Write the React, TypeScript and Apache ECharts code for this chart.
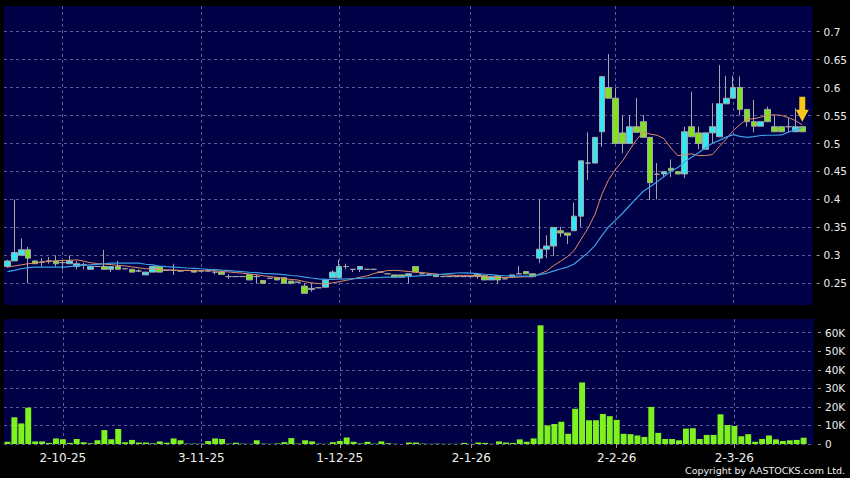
import React, { useEffect, useRef } from "react";
import * as echarts from "echarts";

// [open, close, low, high]
const ohlc: number[][] = [
  [0.28, 0.29, 0.278, 0.292],
  [0.29, 0.305, 0.29, 0.4],
  [0.3, 0.31, 0.3, 0.33],
  [0.31, 0.295, 0.25, 0.315],
  [0.29, 0.285, 0.285, 0.29],
  [0.288, 0.288, 0.28, 0.295],
  [0.29, 0.29, 0.285, 0.297],
  [0.29, 0.285, 0.28, 0.3],
  [0.287, 0.287, 0.275, 0.29],
  [0.285, 0.29, 0.285, 0.3],
  [0.28, 0.285, 0.275, 0.29],
  [0.283, 0.283, 0.275, 0.287],
  [0.275, 0.28, 0.275, 0.28],
  [0.28, 0.28, 0.28, 0.28],
  [0.28, 0.275, 0.275, 0.31],
  [0.275, 0.28, 0.27, 0.28],
  [0.28, 0.275, 0.275, 0.29],
  [0.276, 0.276, 0.276, 0.276],
  [0.275, 0.27, 0.27, 0.275],
  [0.272, 0.272, 0.27, 0.275],
  [0.265, 0.27, 0.265, 0.27],
  [0.27, 0.28, 0.27, 0.28],
  [0.28, 0.27, 0.27, 0.28],
  [0.273, 0.273, 0.273, 0.273],
  [0.273, 0.273, 0.265, 0.285],
  [0.272, 0.272, 0.27, 0.273],
  [0.273, 0.273, 0.273, 0.273],
  [0.273, 0.27, 0.27, 0.273],
  [0.272, 0.272, 0.272, 0.272],
  [0.272, 0.272, 0.272, 0.272],
  [0.27, 0.27, 0.266, 0.27],
  [0.27, 0.266, 0.266, 0.272],
  [0.262, 0.262, 0.258, 0.266],
  [0.262, 0.262, 0.262, 0.262],
  [0.262, 0.262, 0.262, 0.262],
  [0.266, 0.256, 0.256, 0.266],
  [0.262, 0.262, 0.25, 0.266],
  [0.255, 0.25, 0.25, 0.255],
  [0.259, 0.259, 0.259, 0.259],
  [0.26, 0.256, 0.256, 0.26],
  [0.26, 0.25, 0.25, 0.26],
  [0.254, 0.25, 0.248, 0.254],
  [0.252, 0.252, 0.252, 0.252],
  [0.245, 0.232, 0.232, 0.25],
  [0.239, 0.241, 0.235, 0.25],
  [0.242, 0.242, 0.242, 0.242],
  [0.243, 0.256, 0.243, 0.256],
  [0.26, 0.27, 0.26, 0.273],
  [0.26, 0.28, 0.26, 0.292],
  [0.28, 0.28, 0.275, 0.285],
  [0.275, 0.275, 0.27, 0.275],
  [0.275, 0.28, 0.27, 0.281],
  [0.275, 0.275, 0.275, 0.275],
  [0.275, 0.275, 0.275, 0.275],
  [0.27, 0.27, 0.27, 0.27],
  [0.267, 0.267, 0.267, 0.267],
  [0.265, 0.261, 0.261, 0.265],
  [0.265, 0.261, 0.261, 0.265],
  [0.264, 0.267, 0.25, 0.267],
  [0.28, 0.27, 0.27, 0.28],
  [0.267, 0.267, 0.267, 0.267],
  [0.266, 0.266, 0.266, 0.266],
  [0.266, 0.262, 0.262, 0.266],
  [0.262, 0.262, 0.262, 0.262],
  [0.262, 0.262, 0.262, 0.262],
  [0.262, 0.262, 0.262, 0.262],
  [0.262, 0.262, 0.262, 0.262],
  [0.262, 0.262, 0.262, 0.262],
  [0.266, 0.262, 0.258, 0.266],
  [0.2636, 0.256, 0.256, 0.2636],
  [0.256, 0.2615, 0.256, 0.2615],
  [0.264, 0.256, 0.25, 0.264],
  [0.258, 0.258, 0.258, 0.258],
  [0.2615, 0.265, 0.2615, 0.265],
  [0.267, 0.267, 0.267, 0.281],
  [0.271, 0.267, 0.267, 0.271],
  [0.267, 0.262, 0.262, 0.267],
  [0.295, 0.311, 0.286, 0.4],
  [0.311, 0.3167, 0.295, 0.336],
  [0.3167, 0.35, 0.299, 0.35],
  [0.344, 0.34, 0.333, 0.351],
  [0.34, 0.336, 0.32, 0.34],
  [0.344, 0.37, 0.344, 0.394],
  [0.37, 0.469, 0.351, 0.469],
  [0.465, 0.465, 0.435, 0.52],
  [0.465, 0.511, 0.465, 0.511],
  [0.521, 0.6195, 0.494, 0.621],
  [0.6, 0.581, 0.581, 0.66],
  [0.581, 0.5, 0.5, 0.6],
  [0.519, 0.5, 0.4825, 0.551],
  [0.5, 0.53, 0.5, 0.551],
  [0.53, 0.52, 0.52, 0.581],
  [0.539, 0.511, 0.511, 0.551],
  [0.511, 0.43, 0.399, 0.511],
  [0.445, 0.445, 0.4, 0.465],
  [0.4455, 0.4497, 0.44, 0.4497],
  [0.4557, 0.451, 0.44, 0.4715],
  [0.4497, 0.4455, 0.4455, 0.4497],
  [0.4455, 0.521, 0.438, 0.53],
  [0.53, 0.512, 0.512, 0.5926],
  [0.519, 0.5, 0.49, 0.53],
  [0.4897, 0.519, 0.4897, 0.519],
  [0.519, 0.53, 0.5, 0.572],
  [0.512, 0.571, 0.512, 0.64],
  [0.571, 0.581, 0.571, 0.621],
  [0.581, 0.6, 0.581, 0.621],
  [0.6, 0.561, 0.55, 0.62],
  [0.561, 0.539, 0.53, 0.561],
  [0.539, 0.531, 0.52, 0.578],
  [0.531, 0.539, 0.531, 0.539],
  [0.561, 0.539, 0.539, 0.566],
  [0.53, 0.521, 0.521, 0.55],
  [0.53, 0.521, 0.521, 0.53],
  [0.53, 0.53, 0.52, 0.545],
  [0.521, 0.53, 0.521, 0.563],
  [0.53, 0.521, 0.521, 0.53],
];

// volume in thousands of shares
const volumesK: number[] = [
  1.2, 14.4, 11.1, 19.6, 1.4, 1.4, 0.6, 3.0, 2.5, 0.6,
  2.7, 1.0, 0.4, 2.0, 7.5, 2.5, 8.1, 1.0, 2.2, 0.8,
  0.8, 0.4, 1.4, 0.7, 3.0, 2.0, 0.2, 0.2, 0.2, 1.6,
  3.0, 2.7, 0.2, 0.7, 0.2, 0.1, 2.0, 0.2, 0.1, 0.3,
  1.0, 3.2, 0.2, 2.0, 1.4, 0.2, 0.1, 1.0, 1.6, 3.5,
  1.2, 0.3, 1.2, 0.2, 1.4, 0.4, 0.1, 0.0, 0.8, 0.8,
  0.2, 0.1, 0.2, 0.1, 0.1, 0.1, 0.6, 0.1, 0.8, 0.6,
  0.1, 1.4, 0.8, 0.6, 2.5, 1.2, 3.0, 64, 10, 10.8,
  12, 5.5, 19, 33.2, 12.8, 12.8, 16.2, 15, 13, 5.5,
  5.3, 4.6, 3.8, 20, 6, 2.7, 2.7, 2.0, 8.3, 8.5,
  2.7, 4.9, 4.9, 16, 10.2, 9.7, 4.2, 5.3, 1.2, 2.7,
  4.6, 2.5, 1.6, 2.0, 2.2, 3.4,
];

// moving-average values at the start of the window
const ma10Head = [0.279, 0.281, 0.283, 0.285, 0.286, 0.288, 0.289, 0.29, 0.291, 0.291];
const ma20Head = [
  0.271, 0.273, 0.276, 0.278, 0.279, 0.279, 0.279, 0.279, 0.279, 0.28,
  0.281, 0.282, 0.283, 0.284, 0.285, 0.286, 0.286, 0.286, 0.286, 0.286,
];

const tickIndex = [8, 28, 48, 67, 88, 105];
const tickText = ["2-10-25", "3-11-25", "1-12-25", "2-1-26", "2-2-26", "2-3-26"];
const priceTicks = [0.25, 0.3, 0.35, 0.4, 0.45, 0.5, 0.55, 0.6, 0.65, 0.7];
const volumeTicks = [0, 10000, 20000, 30000, 40000, 50000, 60000];
const slotCount = 117;

const categories = Array.from({ length: slotCount }, (_, i) => String(i));
const closes = ohlc.map((d) => d[1]);

function movingAverage(period: number, head: number[]) {
  return closes.map((_, i) => {
    if (i < head.length) return head[i];
    let s = 0;
    for (let k = i - period + 1; k <= i; k++) s += closes[k];
    return +(s / period).toFixed(4);
  });
}

const ma10 = movingAverage(10, ma10Head);
const ma20 = movingAverage(20, ma20Head);
const volumes = volumesK.map((v) => Math.round(v * 1000));

const isTick = (index: number) => tickIndex.indexOf(index) >= 0;
const FONT = "DejaVu Sans";

export default function App() {
  const ref = useRef<HTMLDivElement>(null);
  useEffect(() => {
    if (!ref.current) return;
    const chart = echarts.init(ref.current, undefined, { renderer: "svg" });
    const gridLine = { color: "#5c5c90", type: [3, 3] as number[], width: 1 };
    const last = ohlc.length - 1;
    chart.setOption({
      animation: false,
      backgroundColor: "#000000",
      textStyle: { fontFamily: FONT },
      grid: [
        { left: 4, top: 6, width: 810, height: 299, show: true, backgroundColor: "#000046", borderWidth: 0 },
        { left: 4, top: 319, width: 810, height: 125, show: true, backgroundColor: "#000046", borderWidth: 0 },
      ],
      xAxis: [
        {
          type: "category",
          gridIndex: 0,
          data: categories,
          boundaryGap: true,
          axisLine: { show: false },
          axisTick: { show: false },
          axisLabel: { show: false },
          splitLine: { show: true, interval: isTick, alignWithLabel: true, lineStyle: gridLine },
        },
        {
          type: "category",
          gridIndex: 1,
          data: categories,
          boundaryGap: true,
          axisLine: { show: false },
          axisTick: {
            show: true,
            interval: isTick,
            alignWithLabel: true,
            length: 4,
            lineStyle: { color: "#9a9a9a" },
          },
          axisLabel: {
            interval: isTick,
            formatter: (v: string) => {
              const k = tickIndex.indexOf(Number(v));
              return k >= 0 ? tickText[k] : "";
            },
            color: "#eeeeee",
            fontSize: 12,
            fontFamily: FONT,
            margin: 8,
          },
          splitLine: { show: true, interval: isTick, alignWithLabel: true, lineStyle: gridLine },
        },
      ],
      yAxis: [
        {
          type: "value",
          gridIndex: 0,
          position: "right",
          min: 0.2112,
          max: 0.7459,
          offset: 4,
          axisLine: { show: false },
          axisTick: { show: true, customValues: priceTicks, length: 3, lineStyle: { color: "#9a9a9a" } },
          axisLabel: { customValues: priceTicks, color: "#eeeeee", fontSize: 10.5, fontFamily: FONT, margin: 7 },
          splitLine: { show: true, lineStyle: gridLine },
        },
        {
          type: "value",
          gridIndex: 1,
          position: "right",
          min: 0,
          max: 67400,
          offset: 4,
          axisLine: { show: false },
          axisTick: { show: true, customValues: volumeTicks, length: 3, lineStyle: { color: "#9a9a9a" } },
          axisLabel: {
            customValues: volumeTicks,
            color: "#eeeeee",
            fontSize: 10.5,
            fontFamily: FONT,
            margin: 7,
            formatter: (v: number) => (v === 0 ? "0" : v / 1000 + "K"),
          },
          splitLine: { show: true, lineStyle: gridLine },
        },
      ],
      series: [
        {
          type: "candlestick",
          xAxisIndex: 0,
          yAxisIndex: 0,
          data: ohlc,
          barWidth: "88%",
          itemStyle: {
            color: "#33e8f5",
            color0: "#80e21e",
            borderColor: "#a6a6a6",
            borderColor0: "#a6a6a6",
            borderColorDoji: "#a6a6a6",
            borderWidth: 1,
          },
          markPoint: {
            silent: true,
            symbol: "path://M3.5,0 L9.5,0 L9.5,13 L13,13 L6.5,25 L0,13 L3.5,13 Z",
            symbolSize: [13, 25],
            symbolOffset: [0, -17.5],
            label: { show: false },
            itemStyle: { color: "#f7c81a" },
            data: [{ coord: [String(last), ohlc[last][3]] }],
          },
        },
        {
          type: "line",
          xAxisIndex: 0,
          yAxisIndex: 0,
          data: ma10,
          symbol: "none",
          lineStyle: { color: "#e08c66", width: 1 },
          z: 3,
        },
        {
          type: "line",
          xAxisIndex: 0,
          yAxisIndex: 0,
          data: ma20,
          symbol: "none",
          lineStyle: { color: "#3d9fe6", width: 1.2 },
          z: 3,
        },
        {
          type: "bar",
          xAxisIndex: 1,
          yAxisIndex: 1,
          data: volumes,
          barWidth: "86%",
          itemStyle: { color: "#7ef21f" },
        },
      ],
      graphic: [
        {
          type: "text",
          right: 5,
          top: 465,
          style: {
            text: "Copyright by AASTOCKS.com Ltd.",
            fill: "#eeeeee",
            font: "9.5px 'DejaVu Sans'",
          },
        },
      ],
    });
    return () => chart.dispose();
  }, []);
  return (
    <div
      style={{ position: "fixed", left: 0, top: 0, width: 850, height: 478, background: "#000" }}
    >
      <div ref={ref} style={{ width: 850, height: 478 }} />
    </div>
  );
}
